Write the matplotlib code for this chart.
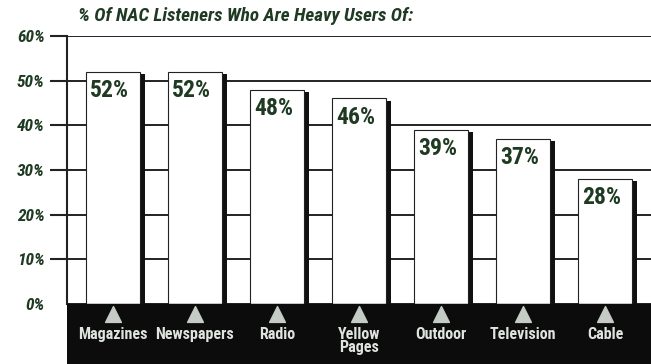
import matplotlib
matplotlib.use('Agg')
import matplotlib.pyplot as plt

categories = ['Magazines', 'Newspapers', 'Radio', 'Yellow\nPages', 'Outdoor', 'Television', 'Cable']
values = [52, 52, 48, 46, 39, 37, 28]
yticks = [0, 10, 20, 30, 40, 50, 60]
title = '% Of NAC Listeners Who Are Heavy Users Of:'

green = '#1e3a22'
fam = ['Roboto Condensed', 'DejaVu Sans']

fig = plt.figure(figsize=(6.51, 3.64), dpi=100)
fig.patch.set_facecolor('white')
ax = fig.add_axes([67/651, 0, 584/651, 328/364])

x = list(range(len(values)))
ax.set_xlim(-0.56, 6.56)
ax.set_ylim(-13.5, 60)

# shadow then bar
ax.bar([i + 0.065 for i in x], [v - 0.6 for v in values], width=0.66, color='#111111', zorder=2)
ax.bar(x, values, width=0.66, color='white', edgecolor='#222222', linewidth=0.8, zorder=2.5)

for i, v in zip(x, values):
    ax.text(i - 0.04, v - 1.6, f'{v}%', ha='center', va='top', fontsize=17,
            fontweight='bold', color=green, family=fam, zorder=4)

# black band with labels
ax.axhspan(-13.5, 0, color='#0c0c0c', zorder=3)
ax.scatter(x, [-2.4] * len(x), marker='^', s=130, color='#c5ccc5', zorder=4)
for i, c in zip(x, categories):
    ax.text(i, -5.3, c, ha='center', va='top', fontsize=11.5, fontweight='bold',
            color='#dfe4df', family=fam, linespacing=0.78, zorder=4)

ax.set_yticks(yticks)
ax.set_yticklabels([f'{t}%' for t in yticks], fontsize=12.5, fontweight='bold',
                   style='italic', color=green, family=fam)
ax.tick_params(axis='y', length=12, width=1.5, color='#222222', pad=4)
ax.yaxis.get_major_ticks()[0].tick1line.set_visible(False)
ax.set_xticks([])
ax.yaxis.grid(True, color='#222222', linewidth=1.4)
ax.set_axisbelow(True)

for s in ['top', 'right', 'bottom']:
    ax.spines[s].set_visible(False)
ax.spines['left'].set_bounds(0, 60)
ax.spines['left'].set_linewidth(1.5)
ax.spines['left'].set_color('#222222')

fig.text(78/651, 1 - 16/364, title, ha='left', va='center', fontsize=13.8,
         fontweight='bold', style='italic', color=green, family=fam)

fig.savefig('out.png', dpi=100)
